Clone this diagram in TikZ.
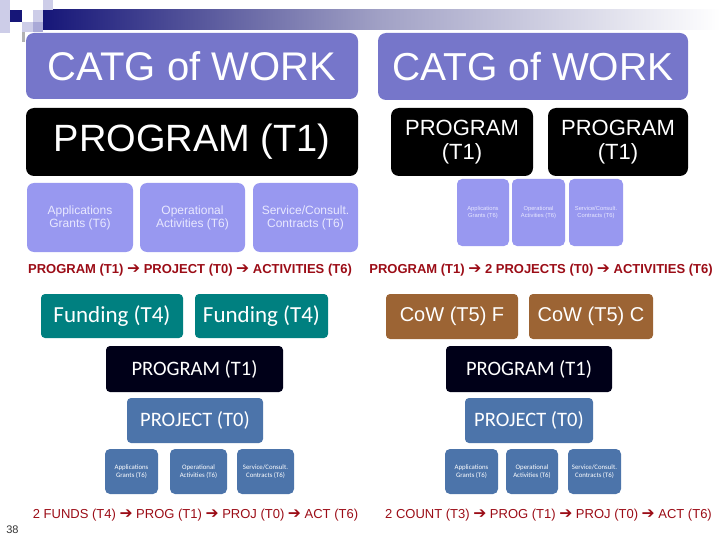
\documentclass[tikz,border=0pt]{standalone}
\usepackage{fontspec}
\setmainfont{Liberation Sans}
\newfontfamily\calfont{Carlito}
\newfontfamily\arrowfont{DejaVu Sans}
\definecolor{catg}{RGB}{118,118,202}
\definecolor{actlight}{RGB}{152,152,240}
\definecolor{acttext}{RGB}{232,232,255}
\definecolor{teal2}{RGB}{0,128,128}
\definecolor{navyblk}{RGB}{0,0,24}
\definecolor{steel}{RGB}{76,116,170}
\definecolor{brown2}{RGB}{156,100,52}
\definecolor{darkred}{RGB}{155,12,22}
\definecolor{hdrnavy}{RGB}{22,22,120}
\definecolor{hdrlight}{RGB}{205,205,232}
\definecolor{hdrmid}{RGB}{170,170,215}
\newcommand{\arr}{\scalebox{1.2}{\arrowfont\symbol{"2794}}}
\tikzset{
  box/.style={inner sep=0pt, align=center, text=white},
  catgbox/.style={box, fill=catg, rounded corners=8pt, font=\fontsize{40}{40}\selectfont},
  blkbox/.style={box, fill=black, rounded corners=8pt},
  actbox/.style={box, fill=actlight, rounded corners=7pt, text=acttext},
  fundbox/.style={box, fill=teal2, rounded corners=4pt, font=\calfont\fontsize{23}{23}\selectfont},
  cowbox/.style={box, fill=brown2, rounded corners=4pt, font=\fontsize{20}{20}\selectfont},
  progbox/.style={box, fill=navyblk, rounded corners=4pt, font=\calfont\fontsize{20.5}{20.5}\selectfont},
  projbox/.style={box, fill=steel, rounded corners=4pt, font=\calfont\fontsize{20.5}{20.5}\selectfont},
  smbox/.style={box, fill=steel, rounded corners=5pt, font=\calfont\fontsize{6.8}{8.2}\selectfont},
  redbold/.style={inner sep=0pt, text=darkred, font=\bfseries\fontsize{13}{13}\selectfont},
  redreg/.style={inner sep=0pt, text=darkred, font=\fontsize{13}{13}\selectfont},
}
\begin{document}
\begin{tikzpicture}[x=1pt,y=-1pt]
\useasboundingbox (0,0) rectangle (720,540);
% header decoration
\shade[left color=hdrnavy, right color=white, middle color=hdrmid!80!gray] (43,10) rectangle (720,30);
\fill[hdrlight] (0,0) rectangle (10,10);
\fill[hdrlight] (0,10) rectangle (10,33);
\fill[hdrnavy] (10,10) rectangle (22,22);
\fill[hdrlight] (33,10) rectangle (43,22);
\fill[hdrlight] (43,0) rectangle (53,10);
\fill[hdrlight] (22,22) rectangle (33,32);
\fill[hdrmid] (33,22) rectangle (43,32);
\fill[gray!60] (22,32) rectangle (25,42);

% left panel
\node[catgbox, minimum width=332pt, minimum height=66pt] (catL) at (192,66) {CATG of WORK};
\node[blkbox, minimum width=332pt, minimum height=68pt, font=\fontsize{38}{38}\selectfont] (progL) at (192,142) {PROGRAM (T1)};
\node[actbox, minimum width=106pt, minimum height=69pt, font=\fontsize{12}{13}\selectfont] (actL1) at (80,217.5) {Applications\\Grants (T6)};
\node[actbox, minimum width=105pt, minimum height=69pt, font=\fontsize{12}{13}\selectfont] (actL2) at (192.5,217.5) {Operational\\Activities (T6)};
\node[actbox, minimum width=105pt, minimum height=69pt, font=\fontsize{12}{13}\selectfont] (actL3) at (305.5,217.5) {Service/Consult.\\Contracts (T6)};
\node[redbold] (redL) at (190,270) {PROGRAM (T1) \arr{} PROJECT (T0) \arr{} ACTIVITIES (T6)};

\node[fundbox, minimum width=142pt, minimum height=44pt] (fund1) at (112,316) {Funding (T4)};
\node[fundbox, minimum width=133pt, minimum height=44pt] (fund2) at (261.5,316) {Funding (T4)};
\node[progbox, minimum width=177pt, minimum height=46pt] (progML) at (194.5,369) {PROGRAM (T1)};
\node[projbox, minimum width=136pt, minimum height=45pt] (projL) at (195,420.5) {PROJECT (T0)};
\node[smbox, minimum width=53pt, minimum height=45pt] (smL1) at (131.5,471.5) {Applications\\Grants (T6)};
\node[smbox, minimum width=57pt, minimum height=45pt] (smL2) at (198.5,471.5) {Operational\\Activities (T6)};
\node[smbox, minimum width=57pt, minimum height=45pt] (smL3) at (265.5,471.5) {Service/Consult.\\Contracts (T6)};
\node[redreg] (botL) at (195.5,515) {2 FUNDS (T4) \arr{} PROG (T1) \arr{} PROJ (T0) \arr{} ACT (T6)};

% right panel
\node[catgbox, minimum width=310pt, minimum height=67pt, font=\fontsize{39}{39}\selectfont] (catR) at (533,66.5) {CATG of WORK};
\node[blkbox, minimum width=142pt, minimum height=68pt, font=\fontsize{22}{24}\selectfont] (progR1) at (462,142) {PROGRAM\\(T1)};
\node[blkbox, minimum width=140pt, minimum height=68pt, font=\fontsize{22}{24}\selectfont] (progR2) at (618,142) {PROGRAM\\(T1)};
\node[actbox, minimum width=52pt, minimum height=67pt, rounded corners=5pt, font=\fontsize{5.8}{6.8}\selectfont] (actR1) at (483,212.5) {Applications\\Grants (T6)};
\node[actbox, minimum width=53pt, minimum height=67pt, rounded corners=5pt, font=\fontsize{5.8}{6.8}\selectfont] (actR2) at (538.5,212.5) {Operational\\Activities (T6)};
\node[actbox, minimum width=54pt, minimum height=67pt, rounded corners=5pt, font=\fontsize{5.8}{6.8}\selectfont] (actR3) at (596,212.5) {Service/Consult.\\Contracts (T6)};
\node[redbold] (redR) at (541,270) {PROGRAM (T1) \arr{} 2 PROJECTS (T0) \arr{} ACTIVITIES (T6)};

\node[cowbox, minimum width=132pt, minimum height=45pt] (cow1) at (452,316.5) {CoW (T5) F};
\node[cowbox, minimum width=124pt, minimum height=45pt] (cow2) at (591,316.5) {CoW (T5) C};
\node[progbox, minimum width=166pt, minimum height=46pt] (progMR) at (529,369) {PROGRAM (T1)};
\node[projbox, minimum width=128pt, minimum height=45pt] (projR) at (529,420.5) {PROJECT (T0)};
\node[smbox, minimum width=53pt, minimum height=45pt] (smR1) at (471.5,471.5) {Applications\\Grants (T6)};
\node[smbox, minimum width=52pt, minimum height=45pt] (smR2) at (532,471.5) {Operational\\Activities (T6)};
\node[smbox, minimum width=53pt, minimum height=45pt] (smR3) at (594.5,471.5) {Service/Consult.\\Contracts (T6)};
\node[redreg] (botR) at (548.5,515) {2 COUNT (T3) \arr{} PROG (T1) \arr{} PROJ (T0) \arr{} ACT (T6)};

\node[inner sep=0pt, text=black!80, font=\fontsize{11}{11}\selectfont] (pg) at (12.5,530) {38};
\end{tikzpicture}
\end{document}
